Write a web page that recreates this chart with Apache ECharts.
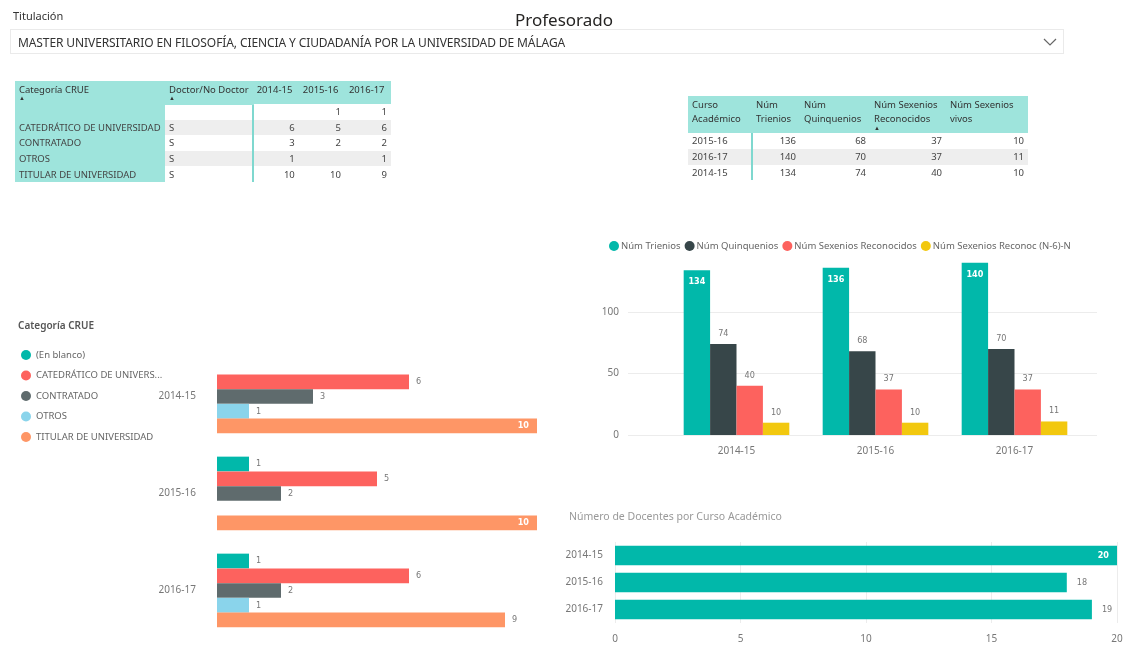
<!DOCTYPE html>
<html>
<head>
<meta charset="utf-8">
<script src="https://cdn.jsdelivr.net/npm/echarts@6/dist/echarts.min.js"></script>
<style>
  body { margin: 0; background: #fff; font-family: "Noto Sans", sans-serif; }
  #page { position: relative; width: 1142px; height: 646px; overflow: hidden; }
  #chart { position: absolute; left: 0; top: 0; width: 1142px; height: 646px; }
  .abs { position: absolute; }
  #slicerTitle { left: 13px; top: 8px; font-size: 11px; color: #333; }
  #title { left: 0; width: 1128px; top: 8px; text-align: center; font-size: 17px; color: #252423; }
  #slicer { left: 10px; top: 29px; width: 1054px; height: 25px; border: 1px solid #eaeaea; box-sizing: border-box; }
  #slicer span { position: absolute; left: 7px; top: 4px; font-size: 12px; color: #333; white-space: nowrap; letter-spacing: -0.1px; }
  #slicer svg { position: absolute; right: 6px; top: 8px; }
  table { border-collapse: collapse; font-size: 9.5px; color: #444; }
  td, th { padding: 0 4px; white-space: nowrap; font-weight: normal; }
  th { background: #9ee4dc; text-align: left; vertical-align: top; color: #333; }
  .num { text-align: right; }
  .teal { background: #9ee4dc; }
  .alt { background: #eeeeee; }
  .sep { border-left: 2px solid #7fd8cf; }
  .arrow { display: block; font-size: 6px; line-height: 5px; }
</style>
</head>
<body>
<div id="page">
  <div id="chart"></div>
  <div class="abs" id="slicerTitle">Titulación</div>
  <div class="abs" id="title">Profesorado</div>
  <div class="abs" id="slicer"><span>MASTER UNIVERSITARIO EN FILOSOFÍA, CIENCIA Y CIUDADANÍA POR LA UNIVERSIDAD DE MÁLAGA</span>
    <svg width="14" height="8"><polyline points="1,1 7,7 13,1" fill="none" stroke="#666" stroke-width="1.2"/></svg></div>
  <table class="abs" id="t1" style="left:15px; top:81px; width:376px;"></table>
  <table class="abs" id="t2" style="left:688px; top:96px; width:340px;"></table>
</div>
<script>
// cursos
const years = ['2014-15', '2015-16', '2016-17'];

// Categoría CRUE por curso
const crueNames = ['(En blanco)', 'CATEDRÁTICO DE UNIVERSIDAD', 'CONTRATADO', 'OTROS', 'TITULAR DE UNIVERSIDAD'];
const crueRowLabels = ['', 'CATEDRÁTICO DE UNIVERSIDAD', 'CONTRATADO', 'OTROS', 'TITULAR DE UNIVERSIDAD'];
const crueDoctor = ['', 'S', 'S', 'S', 'S'];
const crueEnBlanco = [null, 1, 1];
const crueCatedratico = [6, 5, 6];
const crueContratado = [3, 2, 2];
const crueOtros = [1, null, 1];
const crueTitular = [10, 10, 9];
const crueColors = ['#01B8AA', '#FD625E', '#5F6B6D', '#8AD4EB', '#FE9666'];

// trienios, quinquenios, sexenios
const metricNames = ['Núm Trienios', 'Núm Quinquenios', 'Núm Sexenios Reconocidos', 'Núm Sexenios Reconoc (N-6)-N'];
const trienios = [134, 136, 140];
const quinquenios = [74, 68, 70];
const sexenios = [40, 37, 37];
const sexeniosVivos = [10, 10, 11];
const metricColors = ['#01B8AA', '#374649', '#FD625E', '#F2C80F'];
const tableOrder = ['2015-16', '2016-17', '2014-15'];

// docentes por curso
const docentes = [20, 18, 19];

const crueSeries = [crueEnBlanco, crueCatedratico, crueContratado, crueOtros, crueTitular];
const metricSeries = [trienios, quinquenios, sexenios, sexeniosVivos];

// tabla 1
(function () {
  let h = '<tr style="height:23px"><th class="teal" style="width:142px;padding-top:2px">Categoría CRUE<span class="arrow">▲</span></th>' +
    '<th style="width:79px;padding-top:2px">Doctor/No Doctor<span class="arrow">▲</span></th>';
  years.forEach(y => { h += '<th style="padding-top:2px">' + y + '</th>'; });
  h += '</tr>';
  crueRowLabels.forEach((lab, i) => {
    const alt = i % 2 === 1 ? ' alt' : '';
    h += '<tr style="height:15.6px"><td class="teal">' + lab + '</td><td class="' + alt + '" style="' + (i === 0 ? 'border-top:2px solid #9ee4dc' : '') + '">' + crueDoctor[i] + '</td>';
    years.forEach((y, j) => {
      const v = crueSeries[i][j];
      h += '<td class="num' + alt + (j === 0 ? ' sep' : '') + '">' + (v == null ? '' : v) + '</td>';
    });
    h += '</tr>';
  });
  document.getElementById('t1').innerHTML = h;
})();

// tabla 2
(function () {
  const heads = [['Curso', 'Académico'], ['Núm', 'Trienios'], ['Núm', 'Quinquenios'], ['Núm Sexenios', 'Reconocidos'], ['Núm Sexenios', 'vivos']];
  const widths = [56, 40, 62, 68, 74];
  let h = '<tr style="height:37px">';
  heads.forEach((p, i) => {
    h += '<th style="width:' + widths[i] + 'px;padding-top:2px;line-height:14px">' + p[0] + '<br>' + p[1] +
      (i === 3 ? '<span class="arrow">▲</span>' : '') + '</th>';
  });
  h += '</tr>';
  tableOrder.forEach((y, r) => {
    const j = years.indexOf(y);
    const alt = r % 2 === 1 ? ' class="alt"' : '';
    h += '<tr' + alt + ' style="height:15.8px"><td>' + y + '</td>';
    metricSeries.forEach((s, k) => {
      h += '<td class="num' + (k === 0 ? ' sep' : '') + '">' + s[j] + '</td>';
    });
    h += '</tr>';
  });
  document.getElementById('t2').innerHTML = h;
})();

const chart = echarts.init(document.getElementById('chart'));
const font = 'Noto Sans';
const labelGray = { color: '#777', fontSize: 9, fontFamily: 'DejaVu Sans Condensed' };
const insideWhite = { color: '#fff', fontSize: 9, fontWeight: 'bold', fontFamily: 'DejaVu Sans Condensed' };

function hbarData(arr, max) {
  return arr.map(v => {
    if (v == null) return '-';
    if (v >= max) return { value: v, label: Object.assign({ position: 'insideRight', distance: 8 }, insideWhite) };
    return v;
  });
}

const series = [];
crueNames.forEach((name, i) => {
  series.push({
    name: name,
    type: 'bar',
    xAxisIndex: 0,
    yAxisIndex: 0,
    barGap: 0,
    barCategoryGap: '24%',
    itemStyle: { color: crueColors[i] },
    label: Object.assign({ show: true, position: 'right', distance: 7 }, labelGray),
    data: hbarData(crueSeries[i], 10)
  });
});
metricNames.forEach((name, i) => {
  series.push({
    name: name,
    type: 'bar',
    xAxisIndex: 1,
    yAxisIndex: 1,
    barGap: 0,
    barCategoryGap: '24%',
    itemStyle: { color: metricColors[i] },
    label: i === 0
      ? Object.assign({ show: true, position: 'insideTop', distance: 7 }, insideWhite)
      : Object.assign({ show: true, position: 'top', distance: 6 }, labelGray),
    data: metricSeries[i]
  });
});
series.push({
  name: 'Docentes',
  type: 'bar',
  xAxisIndex: 2,
  yAxisIndex: 2,
  barCategoryGap: '27%',
  itemStyle: { color: '#01B8AA' },
  label: Object.assign({ show: true, position: 'right', distance: 10 }, labelGray),
  data: hbarData(docentes, 20)
});

chart.setOption({
  animation: false,
  textStyle: { fontFamily: font },
  title: [
    { text: 'Categoría CRUE', left: 13, top: 316, textStyle: { fontSize: 10, fontWeight: 600, color: '#555', fontFamily: font } },
    { text: 'Número de Docentes por Curso Académico', left: 564, top: 507, textStyle: { fontSize: 10.5, fontWeight: 'normal', color: '#999', fontFamily: font } }
  ],
  legend: [
    {
      data: crueNames, orient: 'vertical', left: 16, top: 345, itemGap: 10.5,
      icon: 'circle', itemWidth: 10, itemHeight: 10,
      textStyle: { fontSize: 9.5, color: '#666', width: 130, overflow: 'truncate', ellipsis: '...' }
    },
    {
      data: metricNames, left: 604, top: 236, itemGap: 4,
      icon: 'circle', itemWidth: 10, itemHeight: 10,
      textStyle: { fontSize: 9.5, color: '#666', padding: [0, 0, 0, -3] }
    }
  ],
  grid: [
    { left: 217, top: 348, width: 320, height: 291 },
    { left: 667, top: 250.5, width: 417, height: 184.5 },
    { left: 615, top: 542, width: 502, height: 81 },
    { left: 628, top: 250.5, width: 469, height: 184.5 }
  ],
  xAxis: [
    { gridIndex: 0, type: 'value', min: 0, max: 10, show: false },
    { gridIndex: 1, type: 'category', data: years, axisLine: { show: false }, axisTick: { show: false },
      axisLabel: { color: '#777', fontSize: 10, margin: 11 } },
    { gridIndex: 2, type: 'value', min: 0, max: 20, interval: 5,
      axisLine: { show: false }, axisTick: { show: false },
      axisLabel: { color: '#777', fontSize: 10, margin: 11 },
      splitLine: { lineStyle: { color: '#ececec' } } },
    { gridIndex: 3, type: 'value', min: 0, max: 1, show: false }
  ],
  yAxis: [
    { gridIndex: 0, type: 'category', data: years, inverse: true,
      axisLine: { show: false }, axisTick: { show: false },
      axisLabel: { color: '#777', fontSize: 10, margin: 21 } },
    { gridIndex: 1, type: 'value', min: 0, max: 150, interval: 50, show: false },
    { gridIndex: 2, type: 'category', data: years, inverse: true,
      axisLine: { show: false }, axisTick: { show: false },
      axisLabel: { color: '#777', fontSize: 10, margin: 12 } },
    { gridIndex: 3, type: 'value', min: 0, max: 150, interval: 50,
      axisLine: { show: false }, axisTick: { show: false },
      axisLabel: { color: '#777', fontSize: 10, margin: 9, showMaxLabel: false },
      splitLine: { showMaxLine: false, lineStyle: { color: '#ececec' } } }
  ],
  series: series
});
</script>
</body>
</html>
